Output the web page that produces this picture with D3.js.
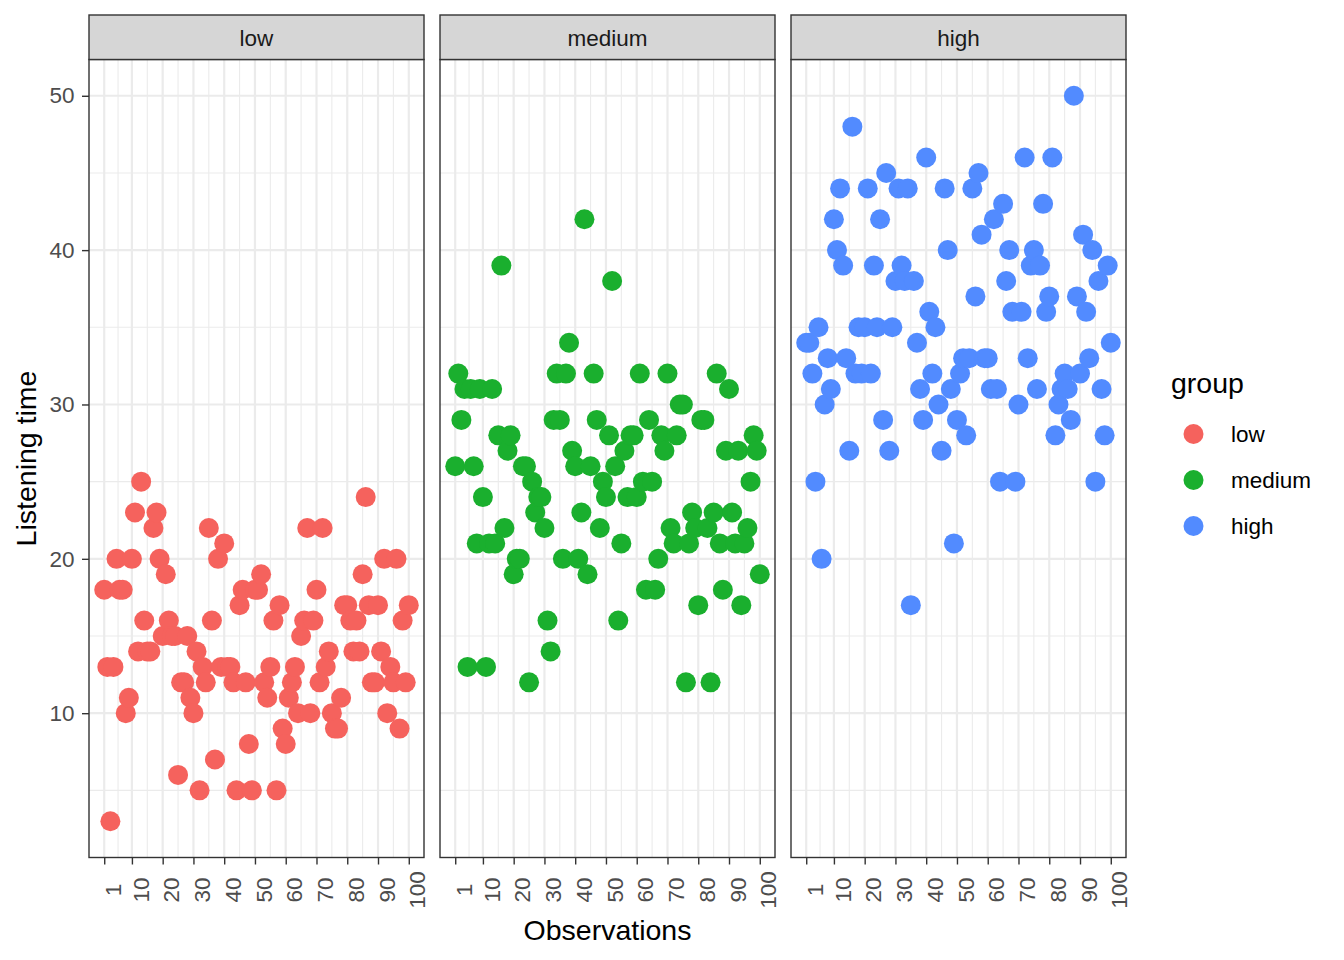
<!DOCTYPE html>
<html>
<head>
<meta charset="utf-8">
<script src="https://cdn.jsdelivr.net/npm/d3@7"></script>
<style>
	body { margin: 0; background: #fff; }
	svg { display: block; font-family: "Liberation Sans", Arial, sans-serif; }
</style>
</head>
<body>
<svg id="chart" width="1344" height="960"></svg>
<script>
var groups = ['low', 'medium', 'high'];
var groupColors = ['#F5625D', '#1AAF2E', '#528BFF'];

var lowTimes = [
	18,13,3,13,20,18,18,10,11,20,
	23,14,25,16,14,14,22,23,20,15,
	19,16,15,15,6,12,12,15,11,10,
	14,5,13,12,22,16,7,20,13,21,
	13,13,12,5,17,18,12,8,5,18,
	18,19,12,11,13,16,5,17,9,8,
	11,12,13,10,15,16,22,10,16,18,
	12,22,13,14,10,9,9,11,17,17,
	16,14,16,14,19,24,17,12,12,17,
	14,20,10,13,12,20,9,16,12,17
];
var mediumTimes = [
	26,32,29,31,13,31,26,21,31,24,
	13,21,31,21,28,39,22,27,28,19,
	20,20,26,26,12,25,23,24,24,22,
	16,14,29,32,29,20,32,34,27,26,
	20,23,42,19,26,32,29,22,25,24,
	28,38,26,16,21,27,24,28,28,24,
	32,25,18,29,25,18,20,28,27,32,
	22,21,28,30,30,12,21,23,22,17,
	29,29,22,12,23,32,21,18,27,31,
	23,21,27,17,21,22,25,28,27,19
];
var highTimes = [
	34,34,32,25,35,20,30,33,31,42,
	40,44,39,33,27,48,32,35,32,35,
	44,32,39,35,42,29,45,27,35,38,
	44,39,38,44,17,38,34,31,29,46,
	36,32,35,30,27,44,40,31,21,29,
	32,33,28,33,44,37,45,41,33,33,
	31,42,31,25,43,38,40,36,25,30,
	36,46,33,39,40,31,39,43,36,37,
	46,28,30,31,32,31,29,50,37,32,
	41,36,33,40,25,38,31,28,39,34
];

var xBreaks = [1, 10, 20, 30, 40, 50, 60, 70, 80, 90, 100];
var xMinorBreaks = [5.5, 15, 25, 35, 45, 55, 65, 75, 85, 95];
var yBreaks = [10, 20, 30, 40, 50];
var yMinorBreaks = [5, 15, 25, 35, 45];

(function(){
	'use strict';

	var svg = d3.select('#chart');
	var series = [lowTimes, mediumTimes, highTimes];
	var panelLefts = [89, 440, 791];
	var panelWidth = 335;
	var panelTop = 59.5, panelBottom = 857.5, stripTop = 15;
	var gridColor = '#EBEBEB', frameColor = '#333333';

	var y = d3.scaleLinear().domain([0.65, 52.35]).range([panelBottom, panelTop]);

	groups.forEach(function(name, k){
		var left = panelLefts[k];
		var x = d3.scaleLinear().domain([1 - 4.95, 100 + 4.95]).range([left, left + panelWidth]);
		var g = svg.append('g');

		g.append('rect')
			.attr('x', left).attr('y', panelTop)
			.attr('width', panelWidth).attr('height', panelBottom - panelTop)
			.attr('fill', '#fff');

		// grid
		g.selectAll('.ymin').data(yMinorBreaks).enter().append('line')
			.attr('x1', left).attr('x2', left + panelWidth)
			.attr('y1', y).attr('y2', y)
			.attr('stroke', gridColor).attr('stroke-width', 1.1);
		g.selectAll('.xmin').data(xMinorBreaks).enter().append('line')
			.attr('x1', x).attr('x2', x)
			.attr('y1', panelTop).attr('y2', panelBottom)
			.attr('stroke', gridColor).attr('stroke-width', 1.1);
		g.selectAll('.ymaj').data(yBreaks).enter().append('line')
			.attr('x1', left).attr('x2', left + panelWidth)
			.attr('y1', y).attr('y2', y)
			.attr('stroke', gridColor).attr('stroke-width', 2.2);
		g.selectAll('.xmaj').data(xBreaks).enter().append('line')
			.attr('x1', x).attr('x2', x)
			.attr('y1', panelTop).attr('y2', panelBottom)
			.attr('stroke', gridColor).attr('stroke-width', 2.2);

		// points
		g.selectAll('circle').data(series[k]).enter().append('circle')
			.attr('cx', function(d, i) { return x(i + 1); })
			.attr('cy', function(d) { return y(d); })
			.attr('r', 10)
			.attr('fill', groupColors[k]);

		g.append('rect')
			.attr('x', left).attr('y', panelTop)
			.attr('width', panelWidth).attr('height', panelBottom - panelTop)
			.attr('fill', 'none').attr('stroke', frameColor).attr('stroke-width', 1.4);

		// strip
		g.append('rect')
			.attr('x', left).attr('y', stripTop)
			.attr('width', panelWidth).attr('height', panelTop - stripTop)
			.attr('fill', '#D6D6D6').attr('stroke', frameColor).attr('stroke-width', 1.4);
		g.append('text')
			.attr('x', left + panelWidth / 2).attr('y', 46)
			.attr('text-anchor', 'middle')
			.attr('font-size', 22.5).attr('fill', '#1A1A1A')
			.text(name);

		// x axis
		var xAxis = svg.append('g')
			.attr('transform', 'translate(0,' + panelBottom + ')')
			.call(d3.axisBottom(x).tickValues(xBreaks).tickSize(7).tickFormat(d3.format('d')));
		xAxis.select('.domain').remove();
		xAxis.selectAll('line').attr('stroke', frameColor).attr('stroke-width', 1.4);
		xAxis.selectAll('text')
			.attr('x', 0).attr('y', 0).attr('dy', '0.72em')
			.attr('transform', 'translate(0,32.5) rotate(-90)')
			.attr('text-anchor', 'middle')
			.attr('font-size', 22.5).attr('fill', '#4D4D4D')
			.attr('font-family', null);
	});

	// y axis
	var yAxis = svg.append('g')
		.attr('transform', 'translate(' + panelLefts[0] + ',0)')
		.call(d3.axisLeft(y).tickValues(yBreaks).tickSize(7).tickPadding(7.5));
	yAxis.select('.domain').remove();
	yAxis.selectAll('line').attr('stroke', frameColor).attr('stroke-width', 1.4);
	yAxis.selectAll('text')
		.attr('font-size', 22.5).attr('fill', '#4D4D4D')
		.attr('font-family', null);

	// titles
	svg.append('text')
		.attr('x', 607.5).attr('y', 940)
		.attr('text-anchor', 'middle')
		.attr('font-size', 28.5).attr('fill', '#000')
		.text('Observations');
	svg.append('text')
		.attr('transform', 'translate(36,' + (panelTop + panelBottom) / 2 + ') rotate(-90)')
		.attr('text-anchor', 'middle')
		.attr('font-size', 28.5).attr('fill', '#000')
		.text('Listening time');

	// legend
	var legend = svg.append('g');
	legend.append('text')
		.attr('x', 1171).attr('y', 393)
		.attr('font-size', 28.5).attr('fill', '#000')
		.text('group');
	var items = legend.selectAll('.item').data(groups).enter().append('g')
		.attr('transform', function(d, i) { return 'translate(0,' + (434 + i * 46) + ')'; });
	items.append('circle')
		.attr('cx', 1193.5).attr('cy', 0).attr('r', 10)
		.attr('fill', function(d, i) { return groupColors[i]; });
	items.append('text')
		.attr('x', 1231).attr('y', 8)
		.attr('font-size', 22.5).attr('fill', '#000')
		.text(function(d) { return d; });

})();
</script>
</body>
</html>
